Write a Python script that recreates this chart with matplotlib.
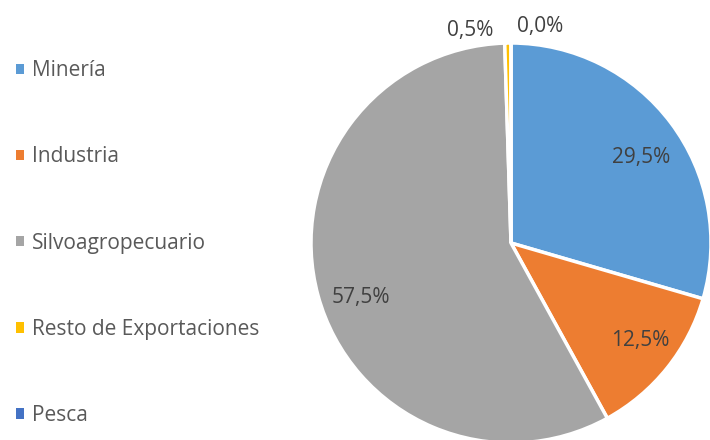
import matplotlib.pyplot as plt
from matplotlib.patches import Patch

categories = ["Minería", "Industria", "Silvoagropecuario", "Resto de Exportaciones", "Pesca"]
shares = [29.5, 12.5, 57.5, 0.5, 0.0]
colors = ["#5B9BD5", "#ED7D31", "#A5A5A5", "#FFC000", "#4472C4"]

plt.rcParams["font.family"] = ["Open Sans", "DejaVu Sans"]

fig = plt.figure(figsize=(7.1, 4.4), dpi=100)
ax = fig.add_axes([0, 0, 1, 1])

cx, cy, r = 511, 440 - 243, 200
wedges, texts, autotexts = ax.pie(
    shares, colors=colors, startangle=90, counterclock=False,
    center=(cx, cy), radius=r, pctdistance=0.79,
    autopct=lambda p: f"{p:.1f}%".replace(".", ","),
    wedgeprops=dict(edgecolor="white", linewidth=2.5),
    textprops=dict(fontsize=15, color="#404040"),
)
ax.set_xlim(0, 710)
ax.set_ylim(0, 440)
ax.axis("off")

# the two tiny slices get their labels above the pie, like Excel's best fit
autotexts[3].set_position((cx - 0.205 * r, cy + 1.065 * r))
autotexts[4].set_position((cx + 0.145 * r, cy + 1.085 * r))
autotexts[1].set_position((cx + 0.645 * r, cy - 0.485 * r))
autotexts[0].set_position((cx + 0.65 * r, cy + 0.43 * r))
autotexts[2].set_position((cx - 0.75 * r, cy - 0.27 * r))

handles = [Patch(facecolor=c, edgecolor="none") for c in colors]
leg = ax.legend(handles, categories, loc="upper left", bbox_to_anchor=(0.011, 0.882),
                frameon=False, fontsize=15, labelcolor="#595959",
                handlelength=0.4, handleheight=0.4, handletextpad=0.35,
                labelspacing=3.13, borderaxespad=0)

fig.savefig("out.png", dpi=100)
